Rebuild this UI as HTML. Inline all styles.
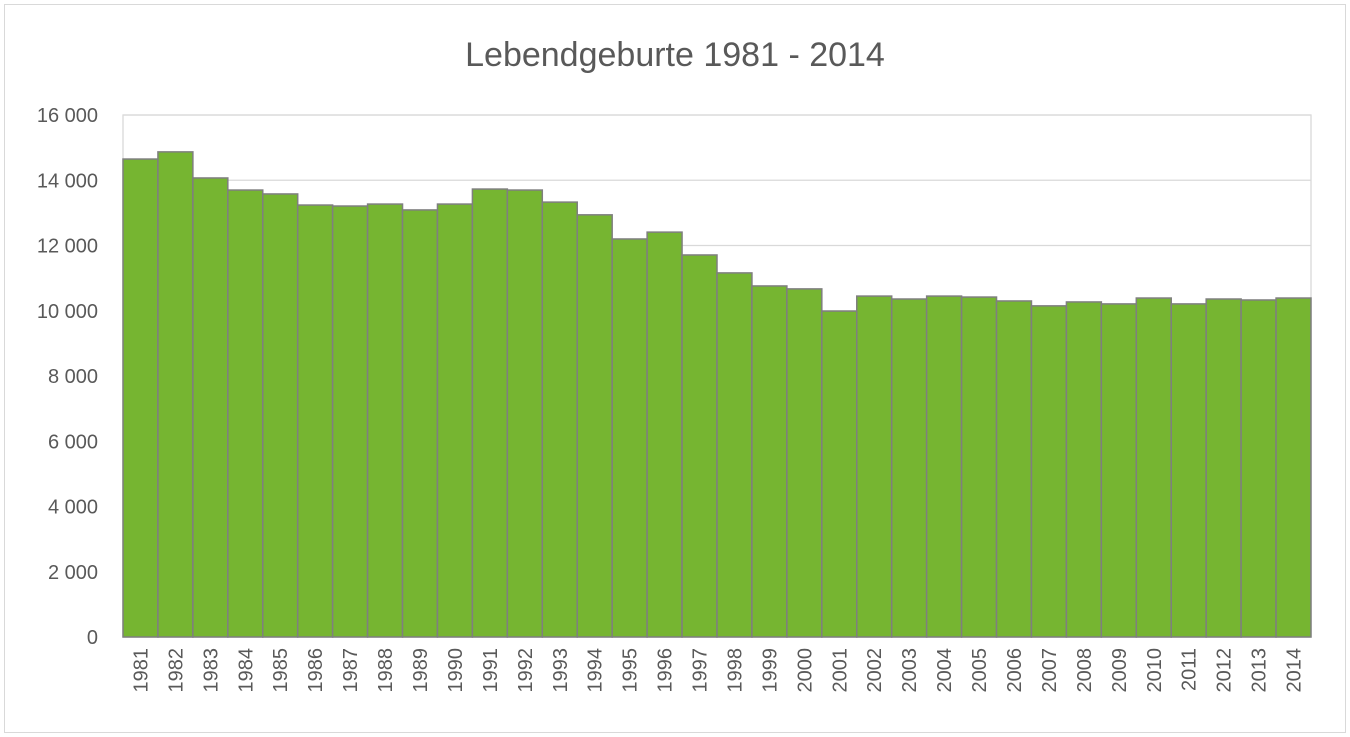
<!DOCTYPE html>
<html><head><meta charset="utf-8"><style>
body{margin:0;background:#fff;}
svg{display:block;font-family:"Liberation Sans",sans-serif;}
</style></head><body>
<svg id="chart" width="1350" height="737">
<rect x="4.5" y="4.5" width="1341" height="728" fill="#fff" stroke="#d9d9d9"/>
<text x="675" y="66" text-anchor="middle" font-size="34" fill="#595959">Lebendgeburte 1981 - 2014</text>
<g id="grid"></g><g id="bars"></g><g id="ylabels"></g><g id="xlabels"></g>
</svg>
<script>
const years=["1981","1982","1983","1984","1985","1986","1987","1988","1989","1990","1991","1992","1993","1994","1995","1996","1997","1998","1999","2000","2001","2002","2003","2004","2005","2006","2007","2008","2009","2010","2011","2012","2013","2014"];
const births=[14650,14870,14070,13700,13580,13240,13210,13270,13090,13270,13730,13700,13330,12940,12200,12410,11710,11160,10760,10670,9990,10450,10360,10450,10420,10300,10150,10270,10210,10390,10210,10360,10330,10390];
const yTicks=[0,2000,4000,6000,8000,10000,12000,14000,16000];
const yTickLabels=["0","2 000","4 000","6 000","8 000","10 000","12 000","14 000","16 000"];
const NS="http://www.w3.org/2000/svg";
const x0=123,x1=1311,yTop=115,yBot=637,yMax=16000;
const bw=(x1-x0)/years.length;
function y(v){return yBot-(v/yMax)*(yBot-yTop);}
function x(i){return x0+i*bw;}
function mk(tag,attrs,parent){const e=document.createElementNS(NS,tag);for(const k in attrs)e.setAttribute(k,attrs[k]);document.getElementById(parent).appendChild(e);return e;}
yTicks.forEach((t,i)=>{
  const l=mk("line",{x1:x0,x2:x1,y1:y(t),y2:y(t),stroke:"#d9d9d9","stroke-width":1.3},"grid");
  
  
  const tx=mk("text",{x:98,y:y(t)+7,"text-anchor":"end","font-size":20,fill:"#595959"},"ylabels");
  tx.textContent=yTickLabels[i];
  
  
});
const fr=mk("rect",{x:x0,y:yTop,width:x1-x0,height:yBot-yTop,fill:"none",stroke:"#d9d9d9","stroke-width":1.3},"grid");


births.forEach((v,i)=>{
  const r=mk("rect",{x:x(i),y:y(v),width:bw,height:yBot-y(v),fill:"#76b531",stroke:"#7f7f7f","stroke-width":1.5},"bars");
  
  
  const cx=x(i)+bw/2+7;
  const t=mk("text",{x:cx,y:648,"text-anchor":"end","font-size":20,fill:"#595959",transform:"rotate(-90 "+cx+" 648)"},"xlabels");
  t.textContent=years[i];
  
  
});
</script>
</body></html>
